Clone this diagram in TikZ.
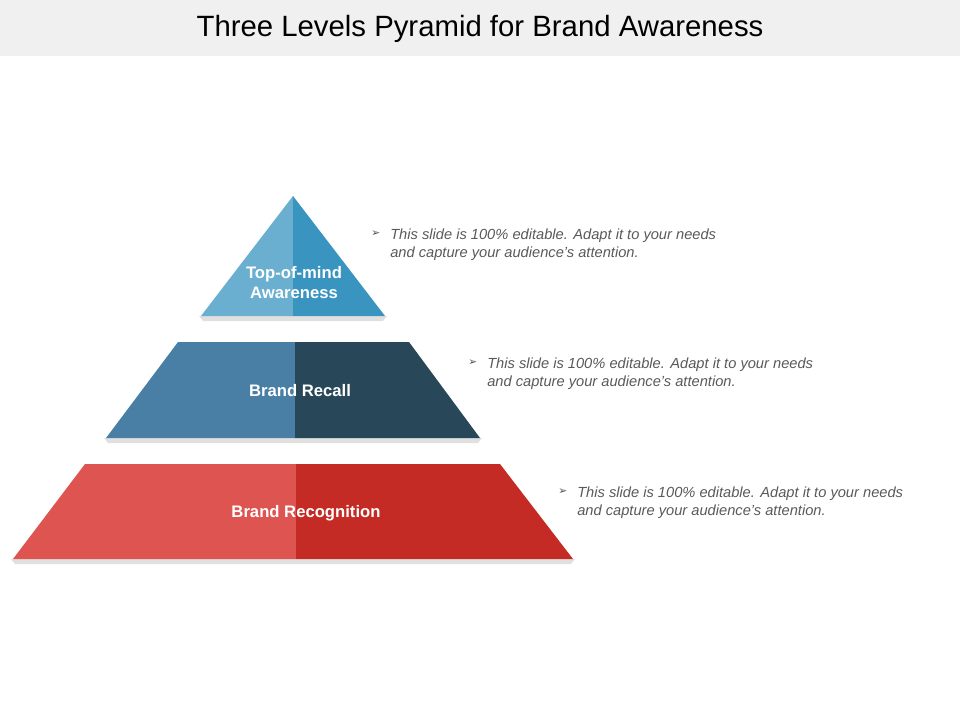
\documentclass[tikz,border=0pt]{standalone}
\usepackage{fontspec}
\setmainfont{Liberation Sans}
\newfontfamily\dvs{DejaVu Sans}
\begin{document}
\begin{tikzpicture}[x=0.75pt,y=-0.75pt,
  lbl/.style={text=white,font=\bfseries\fontsize{12.5}{15}\selectfont,align=center},
  note/.style={text=black!65,font=\itshape\fontsize{11}{13.5}\selectfont,align=left,anchor=north west,inner sep=0pt},
  bul/.style={text=black!70,font=\dvs\fontsize{8}{9}\selectfont,anchor=north west,inner sep=0pt},
  shad/.style={fill=black!12}]
\definecolor{tl}{HTML}{6AAFD0}\definecolor{tr}{HTML}{3A94C0}
\definecolor{ml}{HTML}{4A7FA5}\definecolor{mr}{HTML}{284759}
\definecolor{bl}{HTML}{DE5450}\definecolor{br}{HTML}{C42B25}
\useasboundingbox (0,0) rectangle (960,720);
\fill[black!6] (0,0) rectangle (960,56);
\node (title) at (480,29) {\fontsize{22}{26}\selectfont Three Levels Pyramid for Brand Awareness};
% shadows
\fill[shad] (199,316) -- (387,316) -- (383,321) -- (203,321) -- cycle;
\fill[shad] (104,438) -- (482,438) -- (478,443) -- (108,443) -- cycle;
\fill[shad] (11,559) -- (575,559) -- (571,564) -- (15,564) -- cycle;
% top
\fill[tl] (293,196) -- (201,316) -- (293,316) -- cycle;
\fill[tr] (293,196) -- (385,316) -- (293,316) -- cycle;
% middle
\fill[ml] (178,342) -- (295,342) -- (295,438) -- (106,438) -- cycle;
\fill[mr] (295,342) -- (409,342) -- (480,438) -- (295,438) -- cycle;
% bottom
\fill[bl] (85,464) -- (296,464) -- (296,559) -- (13,559) -- cycle;
\fill[br] (296,464) -- (500,464) -- (573,559) -- (296,559) -- cycle;
\node[lbl] (l1) at (294,283) {Top-of-mind\\Awareness};
\node[lbl] (l2) at (300,391) {Brand Recall};
\node[lbl] (l3) at (306,513) {Brand Recognition};
\node[bul] (b1) at (371,231) {➢};
\node[note] (n1) at (390,229) {This slide is 100\% editable. Adapt it to your needs\\and capture your audience's attention.};
\node[bul] (b2) at (468,360) {➢};
\node[note] (n2) at (487,358) {This slide is 100\% editable. Adapt it to your needs\\and capture your audience's attention.};
\node[bul] (b3) at (558,489) {➢};
\node[note] (n3) at (577,487) {This slide is 100\% editable. Adapt it to your needs\\and capture your audience's attention.};
\end{tikzpicture}
\end{document}
